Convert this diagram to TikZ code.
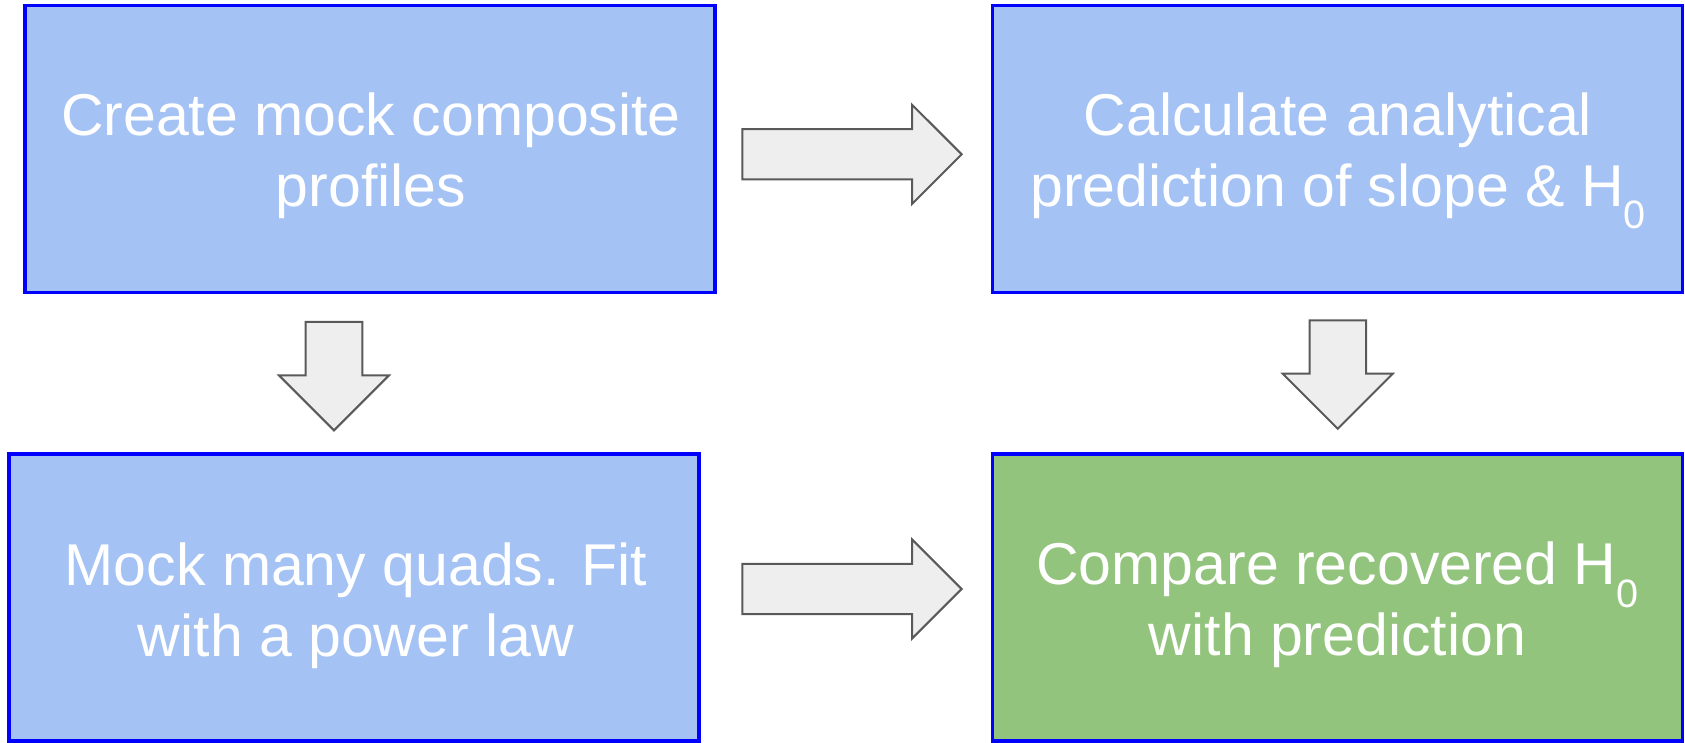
\documentclass[tikz,border=0pt]{standalone}
\usepackage{fontspec}
\setmainfont{Liberation Sans}
\usepackage{xcolor}
\usepackage{tikz}
\usetikzlibrary{shapes, positioning}
\usetikzlibrary{shapes.arrows}

\definecolor{boxblue}{HTML}{A4C2F4}
\definecolor{boxgreen}{HTML}{93C47D}
\definecolor{arrowfill}{HTML}{EEEEEE}
\definecolor{arrowedge}{HTML}{595959}

\newcommand{\hnought}{H\raisebox{-11.1pt}{\fontsize{19.8pt}{19.8pt}\selectfont 0}}

\begin{document}
\begin{tikzpicture}[
            x=0.5pt, y=-0.5pt,
            stage/.style={rectangle, draw=blue, line width=1.6pt, fill=boxblue,
                minimum width=345pt, minimum height=143.5pt, inner sep=0pt},
            stagetext/.style={text=white, align=center, anchor=base, inner sep=0pt,
                font=\fontsize{29.5pt}{35.3pt}\selectfont},
            flow/.style={single arrow, draw=arrowedge, line width=1pt, fill=arrowfill,
                inner xsep=0pt, single arrow tip angle=90},
            flowright/.style={flow, inner ysep=12.07pt, single arrow head extend=12.2pt,
                minimum height=109.65pt},
            flowdown/.style={flow, rotate=-90, inner ysep=13.65pt, single arrow head extend=13.35pt,
                minimum height=54.2pt},
        ]
            \useasboundingbox (0,0) rectangle (1685,743);

            % the four stages
            \node[stage] (create) at (370,148.7) {};
            \node[stage] (calc) at (1337.7,148.7) {};
            \node[stage] (mock) at (354,597.5) {};
            \node[stage, fill=boxgreen] (compare) at (1337.5,597.5) {};

            % text sits on the baseline of its second line
            \node[stagetext] (createtext) at (371,206) {Create mock composite\\profiles};
            \node[stagetext] (calctext) at (1338,206) {Calculate analytical\\prediction of slope \& \hnought};
            \node[stagetext] (mocktext) at (356,656) {Mock many quads. Fit\\with a power law};
            \node[stagetext] (comparetext) at (1337.5,655.5) {Compare recovered \hnought\\with prediction};

            % block arrows between them
            \node[flowright] (flowtop) at (839.4,154.3) {};
            \node[flowright] (flowbottom) at (839.4,589) {};
            \node[flowdown] (flowleft) at (334,362) {};
            \node[flowdown] (flowcalc) at (1337.8,360.4) {};
        \end{tikzpicture}
\end{document}
